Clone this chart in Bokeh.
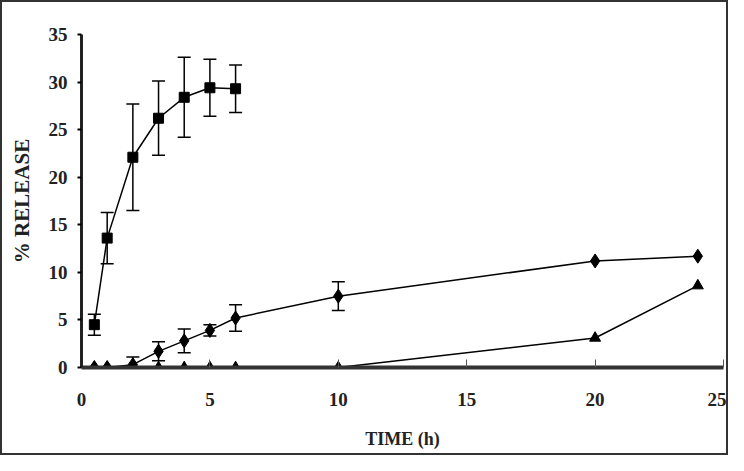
from bokeh.plotting import figure
from bokeh.models import ColumnDataSource, Whisker, TeeHead, Range1d, FixedTicker
from bokeh.embed import file_html
from bokeh.resources import INLINE

# data
time_sq = [0.5, 1, 2, 3, 4, 5, 6]
rel_sq = [4.5, 13.6, 22.1, 26.2, 28.4, 29.4, 29.3]
err_sq = [1.1, 2.7, 5.6, 3.9, 4.2, 3.0, 2.5]

time_di = [0.5, 1, 2, 3, 4, 5, 6, 10, 20, 24]
rel_di = [0.0, 0.0, 0.3, 1.7, 2.8, 3.9, 5.2, 7.5, 11.2, 11.7]
err_di = [0.0, 0.0, 0.8, 1.0, 1.25, 0.6, 1.4, 1.5, 0.0, 0.0]

time_tr = [0.5, 1, 2, 3, 4, 5, 6, 10, 20, 24]
rel_tr = [0, 0, 0, 0, 0, 0, 0, 0, 3.1, 8.6]

x_ticks = [0, 5, 10, 15, 20, 25]
y_ticks = [0, 5, 10, 15, 20, 25, 30, 35]

FONT = "Liberation Serif"

p = figure(width=728, height=455, output_backend="svg", toolbar_location=None,
           x_range=Range1d(0, 25), y_range=Range1d(0, 35),
           min_border_left=79, min_border_right=7, min_border_top=32, min_border_bottom=90)
p.styles = {"border": "2px solid #333333", "box-sizing": "border-box"}
p.xgrid.visible = False
p.ygrid.visible = False
p.outline_line_color = None

def whisk(x, y, e):
    src = ColumnDataSource(dict(x=[a for a, b in zip(x, e) if b > 0],
                                up=[c + b for a, b, c in zip(x, e, y) if b > 0],
                                lo=[c - b for a, b, c in zip(x, e, y) if b > 0]))
    w = Whisker(source=src, base="x", upper="up", lower="lo", line_color="black", line_width=1.5,
                upper_head=TeeHead(size=13, line_color="black", line_width=1.5),
                lower_head=TeeHead(size=13, line_color="black", line_width=1.5))
    p.add_layout(w)

whisk(time_sq, rel_sq, err_sq)
whisk(time_di, rel_di, err_di)

p.line(time_tr, rel_tr, line_color="black", line_width=1.5)
p.line(time_di, rel_di, line_color="black", line_width=1.5)
p.line(time_sq, rel_sq, line_color="black", line_width=1.5)

p.scatter(time_tr, rel_tr, marker="triangle", size=11, color="black")
p.scatter(time_di, rel_di, marker="diamond", size=14, color="black")
p.scatter(time_sq, rel_sq, marker="square", size=10, color="black")

for ax in (p.xaxis[0], p.yaxis[0]):
    ax.major_label_text_font = FONT
    ax.major_label_text_font_style = "bold"
    ax.major_label_text_font_size = "19px"
    ax.major_label_text_color = "#222222"
    ax.axis_label_text_font = FONT
    ax.axis_label_text_font_style = "bold"
    ax.axis_label_text_color = "#222222"
    ax.minor_tick_line_color = None

p.xaxis.ticker = FixedTicker(ticks=x_ticks)
p.yaxis.ticker = FixedTicker(ticks=y_ticks)
p.xaxis.axis_label = "TIME (h)"
p.yaxis.axis_label = "% RELEASE"
p.xaxis.axis_label_text_font_size = "18px"
p.yaxis.axis_label_text_font_size = "21px"
p.xaxis.axis_line_width = 4
p.xaxis.axis_line_color = "#333333"
p.xaxis.major_tick_in = 8
p.xaxis.major_tick_out = 0
p.xaxis.major_tick_line_color = "#555555"
p.xaxis.major_label_standoff = 25
p.xaxis.axis_label_standoff = 20
p.yaxis.axis_line_width = 3
p.yaxis.axis_line_color = "#222222"
p.yaxis.major_tick_in = 0
p.yaxis.major_tick_out = 4
p.yaxis.major_tick_line_width = 2
p.yaxis.major_label_standoff = 10
p.yaxis.axis_label_standoff = 12

open("out.html", "w").write(file_html(p, INLINE))
